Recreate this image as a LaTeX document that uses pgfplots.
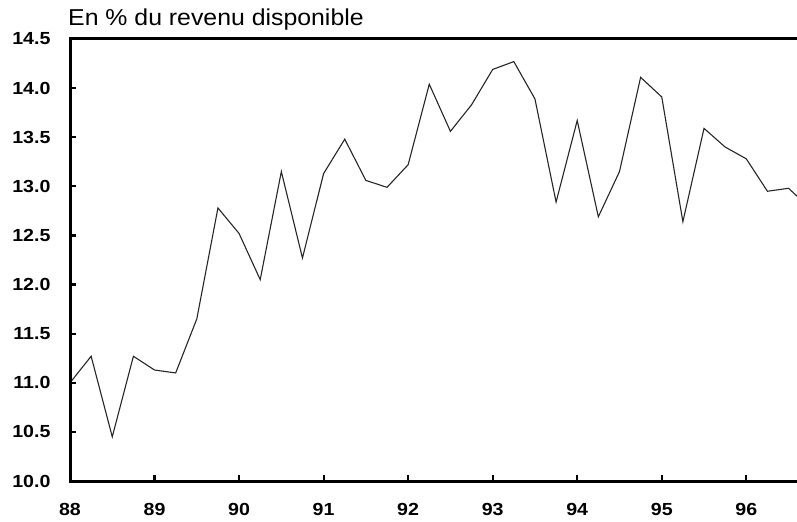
\documentclass[border=0pt]{standalone}
\usepackage{fontspec}
\setmainfont{Liberation Sans}
\newfontfamily\tickfont{Liberation Sans}[FakeStretch=1.12]
\newfontfamily\titlefont{Liberation Sans}[FakeStretch=1.08]
\usepackage{pgfplots}
\pgfplotsset{compat=1.18}
\usetikzlibrary{calc}
\begin{document}
\begin{tikzpicture}
\begin{axis}[
  scale only axis,
  width=727bp, height=442bp,
  xmin=88, xmax=96.6,
  ymin=10, ymax=14.5,
  axis line style={draw=none},
  xtick pos=bottom, ytick pos=left,
  xtick={88,89,...,96},
  ytick={10,10.5,...,14.5},
  tick align=inside,
  major tick length=6bp,
  tick style={line width=2.2bp, black},
  /pgf/number format/assume math mode=true,
  yticklabel style={/pgf/number format/fixed, /pgf/number format/fixed zerofill, /pgf/number format/precision=1, font=\tickfont\bfseries\fontsize{17.5bp}{20bp}\selectfont, xshift=-16bp},
  xticklabel style={font=\tickfont\bfseries\fontsize{17.5bp}{20bp}\selectfont, yshift=-19bp},
  clip=true,
]
\addplot[line width=1.1bp, black!85] coordinates {
(88.00,11.00) (88.25,11.27) (88.50,10.45) (88.75,11.27)
(89.00,11.13) (89.25,11.10) (89.50,11.65) (89.75,12.78)
(90.00,12.52) (90.25,12.05) (90.50,13.15) (90.75,12.27)
(91.00,13.13) (91.25,13.48) (91.50,13.06) (91.75,12.99)
(92.00,13.22) (92.25,14.04) (92.50,13.56) (92.75,13.83)
(93.00,14.19) (93.25,14.27) (93.50,13.89) (93.75,12.84)
(94.00,13.67) (94.25,12.69) (94.50,13.15) (94.75,14.11)
(95.00,13.91) (95.25,12.64) (95.50,13.59) (95.75,13.40)
(96.00,13.28) (96.25,12.95) (96.50,12.98) (96.75,12.78)
};
\coordinate (sw) at (rel axis cs:0,0);
\coordinate (ne) at (rel axis cs:1,1);
\coordinate (nw) at (rel axis cs:0,1);
\coordinate (se) at (rel axis cs:1,0);
\end{axis}
\draw[line width=3bp, line cap=butt, line join=miter] (ne) -- (nw) -- (sw) -- (se);
\node[anchor=base west, inner sep=0pt, font=\titlefont\fontsize{23bp}{26bp}\selectfont] at ($(nw)+(-2bp,13bp)$) {En \% du revenu disponible};
\pgfresetboundingbox
\path[use as bounding box] ($(sw)+(-70bp,-40bp)$) rectangle ($(ne)+(0,39bp)$);
\end{tikzpicture}
\end{document}
